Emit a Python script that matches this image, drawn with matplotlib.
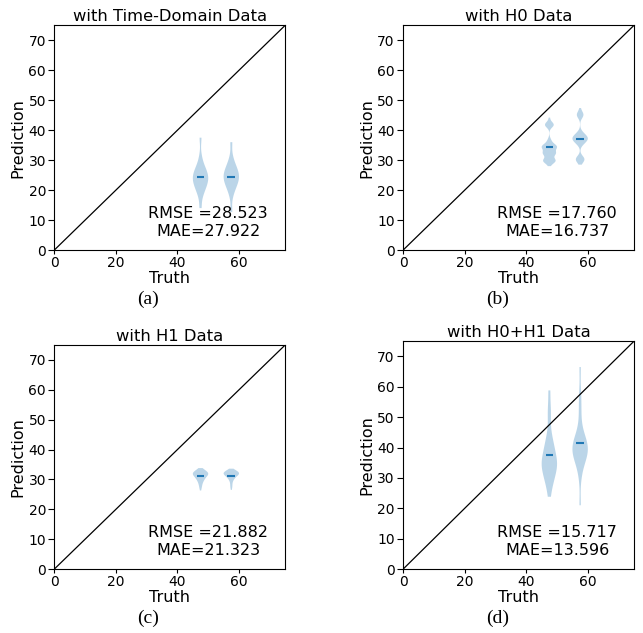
import matplotlib
matplotlib.use('Agg')
import matplotlib.pyplot as plt
import numpy as np

# truth values (violin positions)
truth = [47.5, 57.5]

titles = ['with Time-Domain Data', 'with H0 Data', 'with H1 Data', 'with H0+H1 Data']
captions = ['(a)', '(b)', '(c)', '(d)']
rmse = ['28.523', '17.760', '21.882', '15.717']
mae = ['27.922', '16.737', '21.323', '13.596']

# predictions: value levels and how many samples sit there
a_left_vals = [14, 18, 20, 22, 24, 26, 28, 31, 37.5]
a_left_cnt = [1, 1, 2, 3, 4, 3, 2, 1, 1]
a_right_vals = [12.7, 18, 20.5, 22.5, 24.5, 26.5, 28.5, 31, 36]
a_right_cnt = [1, 1, 2, 3, 4, 3, 2, 1, 1]

b_left_vals = [28.0, 29.8, 32.3, 34.5, 36.5, 41.8, 44.2]
b_left_cnt = [1, 11, 11, 13, 3, 8, 1]
b_right_vals = [28.5, 30.3, 35.8, 37.3, 38.8, 45.1, 47.4]
b_right_cnt = [1, 9, 6, 12, 5, 7, 1]

c_left_vals = [26.3, 27.2, 28.0, 28.6, 29.2, 29.8, 30.4, 31.0, 31.6, 32.2, 32.8, 33.4, 33.8]
c_left_cnt = [1, 2, 2, 2, 3, 4, 5, 7, 9, 10, 7, 3, 1]
c_right_vals = [26.5, 27.5, 28.5, 29.4, 30.0, 30.6, 31.2, 31.8, 32.4, 33.0, 33.6]
c_right_cnt = [1, 2, 2, 2, 3, 4, 7, 10, 10, 6, 1]

d_left_vals = [23.8, 28, 31, 34, 36, 39, 42, 45, 50, 53, 58.8]
d_left_cnt = [1, 2, 3, 4, 3, 3, 2, 1, 1, 1, 1]
d_right_vals = [21, 30, 34, 37, 39.5, 42, 45, 50, 54, 58, 66.5]
d_right_cnt = [1, 1, 2, 4, 5, 4, 2, 1, 1, 1, 1]

panels = [
    ([a_left_vals, a_right_vals], [a_left_cnt, a_right_cnt], 0.4),
    ([b_left_vals, b_right_vals], [b_left_cnt, b_right_cnt], 0.22),
    ([c_left_vals, c_right_vals], [c_left_cnt, c_right_cnt], 0.4),
    ([d_left_vals, d_right_vals], [d_left_cnt, d_right_cnt], 0.35),
]

# axes boxes in figure fraction
boxes = [
    [0.0845, 0.605, 0.359, 0.355],
    [0.627, 0.605, 0.359, 0.355],
    [0.0845, 0.101, 0.359, 0.354],
    [0.627, 0.101, 0.359, 0.360],
]
cap_pos = [(0.230, 0.513), (0.774, 0.513), (0.230, 0.010), (0.774, 0.010)]

fig = plt.figure(figsize=(6.43, 6.33), dpi=100)

for i in range(4):
    vals, cnts, bw = panels[i]
    ax = fig.add_axes(boxes[i])
    data = [np.repeat(v, c) for v, c in zip(vals, cnts)]
    ax.violinplot(data, positions=truth, widths=5, showmeans=True,
                  showextrema=False, bw_method=bw)
    ax.plot([0, 75], [0, 75], color='black', lw=0.9)
    ax.set_xlim(0, 75)
    ax.set_ylim(0, 75)
    ax.set_xticks([0, 20, 40, 60])
    ax.set_yticks(np.arange(0, 71, 10))
    ax.tick_params(axis='x', labelsize=10, length=3, pad=1)
    ax.tick_params(axis='y', labelsize=10, length=4.5, pad=1.5)
    ax.set_xlabel('Truth', fontsize=11.5, labelpad=1)
    ax.set_ylabel('Prediction', fontsize=11.5, labelpad=2)
    ax.set_title(titles[i], fontsize=11.8, pad=3)
    ax.text(50, 3.8, 'RMSE =' + rmse[i] + '\nMAE=' + mae[i], ha='center',
            va='bottom', fontsize=11.5, multialignment='center')
    fig.text(cap_pos[i][0], cap_pos[i][1], captions[i], ha='center',
             va='bottom', fontsize=14, family='Liberation Serif')

fig.savefig('out.png', dpi=100)
